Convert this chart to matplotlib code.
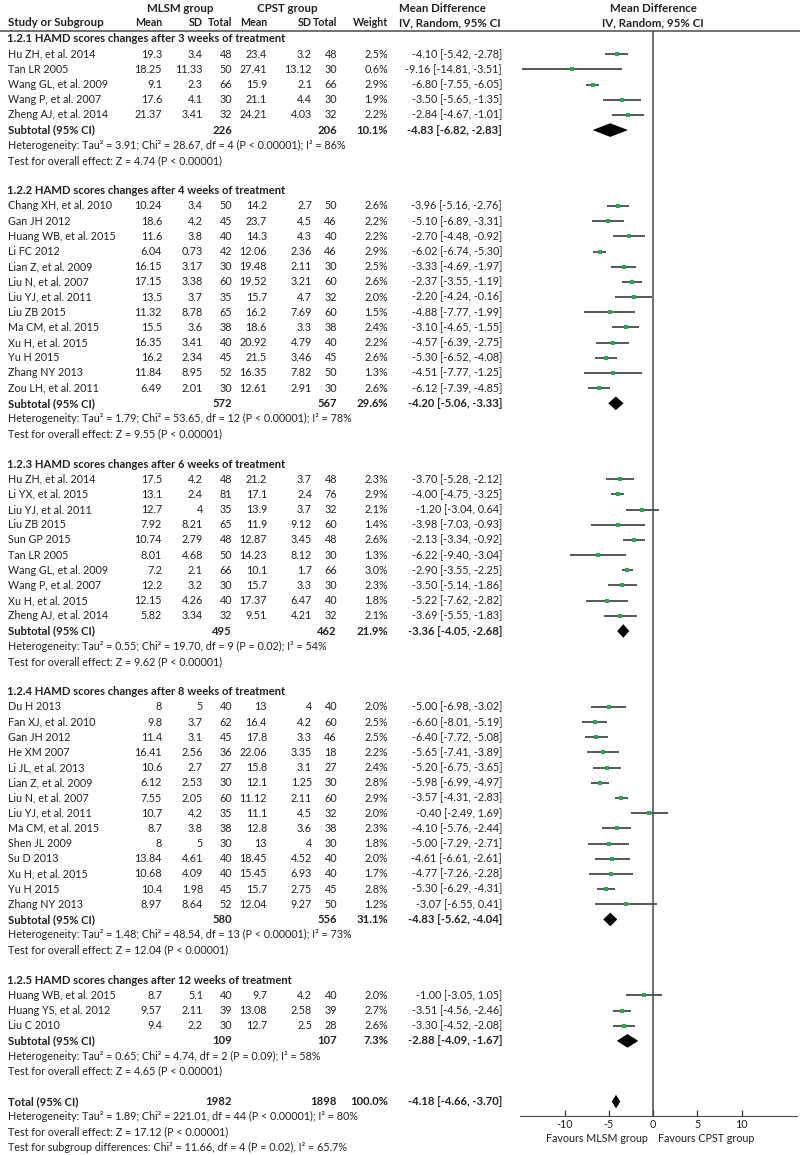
import matplotlib
matplotlib.use('Agg')
from matplotlib import pyplot as plt
from matplotlib.patches import Polygon

plt.rcParams['font.family'] = ['Lato', 'DejaVu Sans']
plt.rcParams['axes.unicode_minus'] = False

# study rows: name, MLSM mean, sd, n, CPST mean, sd, n, weight %, MD, CI low, CI high
sec1 = [
    ('Hu ZH, et al. 2014', 19.3, 3.4, 48, 23.4, 3.2, 48, 2.5, -4.10, -5.42, -2.78),
    ('Tan LR 2005', 18.25, 11.33, 50, 27.41, 13.12, 30, 0.6, -9.16, -14.81, -3.51),
    ('Wang GL, et al. 2009', 9.1, 2.3, 66, 15.9, 2.1, 66, 2.9, -6.80, -7.55, -6.05),
    ('Wang P, et al. 2007', 17.6, 4.1, 30, 21.1, 4.4, 30, 1.9, -3.50, -5.65, -1.35),
    ('Zheng AJ, et al. 2014', 21.37, 3.41, 32, 24.21, 4.03, 32, 2.2, -2.84, -4.67, -1.01),
]
sec2 = [
    ('Chang XH, et al. 2010', 10.24, 3.4, 50, 14.2, 2.7, 50, 2.6, -3.96, -5.16, -2.76),
    ('Gan JH 2012', 18.6, 4.2, 45, 23.7, 4.5, 46, 2.2, -5.10, -6.89, -3.31),
    ('Huang WB, et al. 2015', 11.6, 3.8, 40, 14.3, 4.3, 40, 2.2, -2.70, -4.48, -0.92),
    ('Li FC 2012', 6.04, 0.73, 42, 12.06, 2.36, 46, 2.9, -6.02, -6.74, -5.30),
    ('Lian Z, et al. 2009', 16.15, 3.17, 30, 19.48, 2.11, 30, 2.5, -3.33, -4.69, -1.97),
    ('Liu N, et al. 2007', 17.15, 3.38, 60, 19.52, 3.21, 60, 2.6, -2.37, -3.55, -1.19),
    ('Liu YJ, et al. 2011', 13.5, 3.7, 35, 15.7, 4.7, 32, 2.0, -2.20, -4.24, -0.16),
    ('Liu ZB 2015', 11.32, 8.78, 65, 16.2, 7.69, 60, 1.5, -4.88, -7.77, -1.99),
    ('Ma CM, et al. 2015', 15.5, 3.6, 38, 18.6, 3.3, 38, 2.4, -3.10, -4.65, -1.55),
    ('Xu H, et al. 2015', 16.35, 3.41, 40, 20.92, 4.79, 40, 2.2, -4.57, -6.39, -2.75),
    ('Yu H 2015', 16.2, 2.34, 45, 21.5, 3.46, 45, 2.6, -5.30, -6.52, -4.08),
    ('Zhang NY 2013', 11.84, 8.95, 52, 16.35, 7.82, 50, 1.3, -4.51, -7.77, -1.25),
    ('Zou LH, et al. 2011', 6.49, 2.01, 30, 12.61, 2.91, 30, 2.6, -6.12, -7.39, -4.85),
]
sec3 = [
    ('Hu ZH, et al. 2014', 17.5, 4.2, 48, 21.2, 3.7, 48, 2.3, -3.70, -5.28, -2.12),
    ('Li YX, et al. 2015', 13.1, 2.4, 81, 17.1, 2.4, 76, 2.9, -4.00, -4.75, -3.25),
    ('Liu YJ, et al. 2011', 12.7, 4, 35, 13.9, 3.7, 32, 2.1, -1.20, -3.04, 0.64),
    ('Liu ZB 2015', 7.92, 8.21, 65, 11.9, 9.12, 60, 1.4, -3.98, -7.03, -0.93),
    ('Sun GP 2015', 10.74, 2.79, 48, 12.87, 3.45, 48, 2.6, -2.13, -3.34, -0.92),
    ('Tan LR 2005', 8.01, 4.68, 50, 14.23, 8.12, 30, 1.3, -6.22, -9.40, -3.04),
    ('Wang GL, et al. 2009', 7.2, 2.1, 66, 10.1, 1.7, 66, 3.0, -2.90, -3.55, -2.25),
    ('Wang P, et al. 2007', 12.2, 3.2, 30, 15.7, 3.3, 30, 2.3, -3.50, -5.14, -1.86),
    ('Xu H, et al. 2015', 12.15, 4.26, 40, 17.37, 6.47, 40, 1.8, -5.22, -7.62, -2.82),
    ('Zheng AJ, et al. 2014', 5.82, 3.34, 32, 9.51, 4.21, 32, 2.1, -3.69, -5.55, -1.83),
]
sec4 = [
    ('Du H 2013', 8, 5, 40, 13, 4, 40, 2.0, -5.00, -6.98, -3.02),
    ('Fan XJ, et al. 2010', 9.8, 3.7, 62, 16.4, 4.2, 60, 2.5, -6.60, -8.01, -5.19),
    ('Gan JH 2012', 11.4, 3.1, 45, 17.8, 3.3, 46, 2.5, -6.40, -7.72, -5.08),
    ('He XM 2007', 16.41, 2.56, 36, 22.06, 3.35, 18, 2.2, -5.65, -7.41, -3.89),
    ('Li JL, et al. 2013', 10.6, 2.7, 27, 15.8, 3.1, 27, 2.4, -5.20, -6.75, -3.65),
    ('Lian Z, et al. 2009', 6.12, 2.53, 30, 12.1, 1.25, 30, 2.8, -5.98, -6.99, -4.97),
    ('Liu N, et al. 2007', 7.55, 2.05, 60, 11.12, 2.11, 60, 2.9, -3.57, -4.31, -2.83),
    ('Liu YJ, et al. 2011', 10.7, 4.2, 35, 11.1, 4.5, 32, 2.0, -0.40, -2.49, 1.69),
    ('Ma CM, et al. 2015', 8.7, 3.8, 38, 12.8, 3.6, 38, 2.3, -4.10, -5.76, -2.44),
    ('Shen JL 2009', 8, 5, 30, 13, 4, 30, 1.8, -5.00, -7.29, -2.71),
    ('Su D 2013', 13.84, 4.61, 40, 18.45, 4.52, 40, 2.0, -4.61, -6.61, -2.61),
    ('Xu H, et al. 2015', 10.68, 4.09, 40, 15.45, 6.93, 40, 1.7, -4.77, -7.26, -2.28),
    ('Yu H 2015', 10.4, 1.98, 45, 15.7, 2.75, 45, 2.8, -5.30, -6.29, -4.31),
    ('Zhang NY 2013', 8.97, 8.64, 52, 12.04, 9.27, 50, 1.2, -3.07, -6.55, 0.41),
]
sec5 = [
    ('Huang WB, et al. 2015', 8.7, 5.1, 40, 9.7, 4.2, 40, 2.0, -1.00, -3.05, 1.05),
    ('Huang YS, et al. 2012', 9.57, 2.11, 39, 13.08, 2.58, 39, 2.7, -3.51, -4.56, -2.46),
    ('Liu C 2010', 9.4, 2.2, 30, 12.7, 2.5, 28, 2.6, -3.30, -4.52, -2.08),
]

titles = ['1.2.1 HAMD scores changes after 3 weeks of treatment',
          '1.2.2 HAMD scores changes after 4 weeks of treatment',
          '1.2.3 HAMD scores changes after 6 weeks of treatment',
          '1.2.4 HAMD scores changes after 8 weeks of treatment',
          '1.2.5 HAMD scores changes after 12 weeks of treatment']

# subtotal: n MLSM, n CPST, weight, MD, low, high
subtotals = [(226, 206, 10.1, -4.83, -6.82, -2.83),
             (572, 567, 29.6, -4.20, -5.06, -3.33),
             (495, 462, 21.9, -3.36, -4.05, -2.68),
             (580, 556, 31.1, -4.83, -5.62, -4.04),
             (109, 107, 7.3, -2.88, -4.09, -1.67)]

het = ['Heterogeneity: Tau² = 3.91; Chi² = 28.67, df = 4 (P < 0.00001); I² = 86%',
       'Heterogeneity: Tau² = 1.79; Chi² = 53.65, df = 12 (P < 0.00001); I² = 78%',
       'Heterogeneity: Tau² = 0.55; Chi² = 19.70, df = 9 (P = 0.02); I² = 54%',
       'Heterogeneity: Tau² = 1.48; Chi² = 48.54, df = 13 (P < 0.00001); I² = 73%',
       'Heterogeneity: Tau² = 0.65; Chi² = 4.74, df = 2 (P = 0.09); I² = 58%']
overall = ['Test for overall effect: Z = 4.74 (P < 0.00001)',
           'Test for overall effect: Z = 9.55 (P < 0.00001)',
           'Test for overall effect: Z = 9.62 (P < 0.00001)',
           'Test for overall effect: Z = 12.04 (P < 0.00001)',
           'Test for overall effect: Z = 4.65 (P < 0.00001)']

total = (1982, 1898, 100.0, -4.18, -4.66, -3.70)
total_lines = ['Heterogeneity: Tau² = 1.89; Chi² = 221.01, df = 44 (P < 0.00001); I² = 80%',
               'Test for overall effect: Z = 17.12 (P < 0.00001)',
               'Test for subgroup differences: Chi² = 11.66, df = 4 (P = 0.02), I² = 65.7%']

ticks = [-10, -5, 0, 5, 10]

# layout (pixels)
W, H = 800, 1155
Y0, PX = 39, 15.18     # first row centre, row pitch
ZERO, UNIT = 653, 8.85  # x pixel of 0, pixels per unit
XMIN, XMAX = -15, 16.3
AXIS_Y, TOP_Y = 1116, 31
TC = '#222222'
LC = '#4a4a4a'


def row_at(p):
    return (p - Y0) / PX


fig = plt.figure(figsize=(W / 100, H / 100), dpi=100)
renderer = fig.canvas.get_renderer()


def fit_size(s, target, weight):
    # font size so that string s is target pixels wide
    t = fig.text(0, 0, s, fontsize=10, fontweight=weight)
    w = t.get_window_extent(renderer=renderer).width
    t.remove()
    return 10 * target / w


FS = fit_size(total_lines[0], 347, 'normal')
FSB = fit_size(titles[0], 280, 'bold')
FSH = fit_size('Study or Subgroup', 96, 'bold')
FSC = fit_size('Total', 24.5, 'bold')

ax = fig.add_axes([0, 0, 1, 1])
ax.set_xlim(0, W)
ax.set_ylim(row_at(H), row_at(0))
ax.axis('off')

left = (ZERO + XMIN * UNIT) / W
width = (XMAX - XMIN) * UNIT / W
fa = fig.add_axes([left, 1 - AXIS_Y / H, width, (AXIS_Y - TOP_Y) / H])
fa.set_xlim(XMIN, XMAX)
fa.set_ylim(row_at(AXIS_Y), row_at(TOP_Y))
fa.patch.set_alpha(0)
for s in ['left', 'right', 'top']:
    fa.spines[s].set_visible(False)
fa.spines['bottom'].set_color(LC)
fa.set_yticks([])
fa.set_xticks(ticks)
fa.tick_params(axis='x', direction='in', length=4, width=1, color=LC, pad=2,
               labelsize=FS, labelcolor=TC)
fa.axvline(0, color=LC, lw=1.1)

cols = [162, 203, 232, 267, 312, 337]
WX, CIX = 388, 502


def txt(x, r, s, ha='left', bold=False, size=None):
    if size is None:
        size = FSB if bold else FS
    ax.text(x, r, s, ha=ha, va='center', fontsize=size, color=TC,
            fontweight='bold' if bold else 'normal')


def ci_text(md, lo, hi):
    return f'{md:.2f} [{lo:.2f}, {hi:.2f}]'


def diamond(r, md, lo, hi):
    h = 0.45
    fa.add_patch(Polygon([(lo, r), (md, r - h), (hi, r), (md, r + h)],
                         closed=True, color='black', lw=0))


# header
hr1, hr2 = row_at(8), row_at(23)
txt(180, hr1, 'MLSM group', ha='center', bold=True, size=FSH)
txt(287, hr1, 'CPST group', ha='center', bold=True, size=FSH)
txt(8, hr2, 'Study or Subgroup', bold=True, size=FSH)
for x, s in zip(cols + [WX], ['Mean', 'SD', 'Total', 'Mean', 'SD', 'Total', 'Weight']):
    txt(x, hr2, s, ha='right', bold=True, size=FSC)
txt(399, hr1, 'Mean Difference', bold=True, size=FSH)
txt(399, hr2, 'IV, Random, 95% CI', bold=True, size=FSH)
txt(ZERO, hr1, 'Mean Difference', ha='center', bold=True, size=FSH)
txt(ZERO, hr2, 'IV, Random, 95% CI', ha='center', bold=True, size=FSH)
ax.plot([0, W], [row_at(TOP_Y), row_at(TOP_Y)], color=LC, lw=1.1)

row = 0
for title, rows, sub, h_line, o_line in zip(titles, [sec1, sec2, sec3, sec4, sec5],
                                          subtotals, het, overall):
    txt(7, row, title, bold=True)
    row += 1
    for st in rows:
        txt(8, row, st[0])
        for x, v in zip(cols, st[1:7]):
            txt(x, row, str(v), ha='right')
        txt(WX, row, f'{st[7]:.1f}%', ha='right')
        txt(CIX, row, ci_text(*st[8:11]), ha='right')
        fa.plot([st[9], st[10]], [row, row], color=LC, lw=1.3, solid_capstyle='butt')
        fa.plot(st[8], row, 's', color='#1fae4b', ms=2.2, mew=0)
        row += 1
    txt(8, row, 'Subtotal (95% CI)', bold=True)
    txt(cols[2], row, str(sub[0]), ha='right', bold=True)
    txt(cols[5], row, str(sub[1]), ha='right', bold=True)
    txt(WX, row, f'{sub[2]:.1f}%', ha='right', bold=True)
    txt(CIX, row, ci_text(*sub[3:6]), ha='right', bold=True)
    diamond(row, *sub[3:6])
    row += 1
    txt(8, row, h_line)
    row += 1
    txt(8, row, o_line)
    row += 2

txt(8, row, 'Total (95% CI)', bold=True)
txt(cols[2], row, str(total[0]), ha='right', bold=True)
txt(cols[5], row, str(total[1]), ha='right', bold=True)
txt(WX, row, f'{total[2]:.1f}%', ha='right', bold=True)
txt(CIX, row, ci_text(*total[3:6]), ha='right', bold=True)
diamond(row, *total[3:6])
for line in total_lines:
    row += 1
    txt(8, row, line)

txt(648, row_at(1139), 'Favours MLSM group', ha='right')
txt(658, row_at(1139), 'Favours CPST group')

fig.savefig('out.png', dpi=100)
